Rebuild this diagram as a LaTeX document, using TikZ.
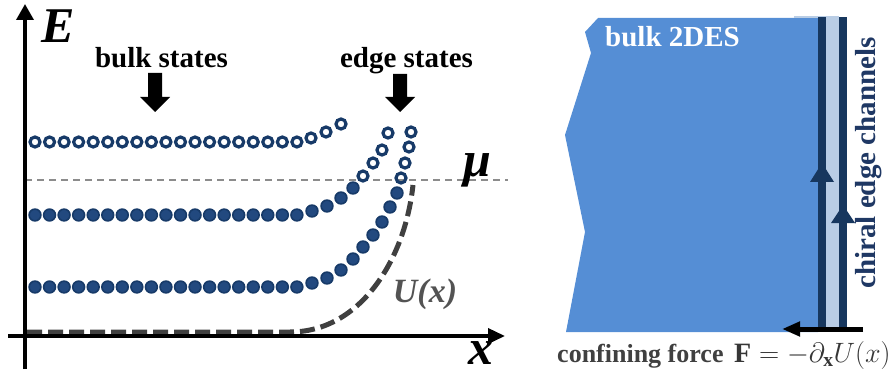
\documentclass[tikz,border=0pt]{standalone}
\usepackage{fix-cm}
\usepackage{fontspec}
\setmainfont{Liberation Serif}
\usetikzlibrary{arrows.meta}
\definecolor{navyring}{HTML}{173A68}
\definecolor{navyfill}{HTML}{22497F}
\definecolor{bulkblue}{HTML}{558ED5}
\definecolor{lightch}{HTML}{B9CDE5}
\definecolor{darkch}{HTML}{17375E}
\definecolor{ugray}{HTML}{404040}
\definecolor{mugray}{HTML}{8C8C8C}
\definecolor{chtext}{HTML}{1F3864}
\tikzset{
  odot/.style={draw=navyring, line width=3.2pt},
  fdot/.style={fill=navyfill, draw=navyring, line width=1.6pt},
  axis/.style={line width=3.5pt, black},
  lbl/.style={font=\fontsize{29}{34}\selectfont\bfseries, inner sep=0pt},
  biglbl/.style={font=\fontsize{50}{56}\selectfont\bfseries\itshape, inner sep=0pt},
  fatarrow/.style={fill=black},
}
\begin{document}
\begin{tikzpicture}[x=1pt,y=-1pt]
\useasboundingbox (0,0) rectangle (896,374);
% ---------------- left panel ----------------
% chemical potential line
\coordinate (mu0) at (25,180);
\coordinate (mu1) at (508,180);
\draw[mugray, line width=1.3pt, dash pattern=on 7pt off 5pt] (mu0) -- (mu1);
% axes
\coordinate (yb) at (25,369);
\coordinate (yt) at (25,4);
\coordinate (xl) at (8,336);
\coordinate (xr) at (505,336);
% potential U(x)
\coordinate (u0) at (27,332);
\coordinate (u1) at (290,332);
\coordinate (u2) at (413,185);
\draw[ugray, line width=5pt, dash pattern=on 15pt off 6pt] (u0) -- (u1) .. controls (360,332) and (405,260) .. (u2);
\draw[axis, -{Triangle[length=16pt,width=17pt]}] (yb) -- (yt);
\draw[axis, -{Triangle[length=17pt,width=15pt]}] (xl) -- (xr);
% dots: top row (open)
\foreach \k in {0,...,18} \draw[odot] ({35+14.55*\k},142) circle (5.0);
\foreach \p in {(311,138),(326,132),(341,124)} \draw[odot] \p circle (5.0);
% middle row
\foreach \k in {0,...,18} \filldraw[fdot] ({35+14.55*\k},215) circle (5.9);
\foreach \p in {(312,211),(327,206),(341,198),(353,188)} \filldraw[fdot] \p circle (5.9);
\foreach \p in {(363,176),(373,163),(382,150),(388,133)} \draw[odot] \p circle (5.0);
% bottom row
\foreach \k in {0,...,18} \filldraw[fdot] ({35+14.55*\k},287) circle (5.9);
\foreach \p in {(312,283),(327,278),(341,270),(353,259),(363,247),(373,235),(382,222),(390,207),(397,193)} \filldraw[fdot] \p circle (5.9);
\foreach \p in {(401,178),(405,163),(409,147),(411,132)} \draw[odot] \p circle (5.0);
% labels
\node[biglbl, anchor=base] (E) at (58,43) {E};
\node[biglbl, anchor=base] (X) at (481,364) {x};
\node[biglbl, anchor=base] (MU) at (477,176) {μ};
\node[font=\fontsize{34}{40}\selectfont\bfseries\itshape, text=ugray!90, inner sep=0pt, anchor=base] (UX) at (425,302) {U(x)};
\node[lbl, anchor=base] (bulk) at (161.5,68) {bulk states};
\node[lbl, anchor=base] (edge) at (406.5,68) {edge states};
% fat arrows
\fill[fatarrow] (148,73) -- (162,73) -- (162,97) -- (170,97) -- (155,112) -- (140,97) -- (148,97) -- cycle;
\fill[fatarrow] (393,74) -- (407,74) -- (407,97) -- (415,97) -- (400,112) -- (385,97) -- (393,97) -- cycle;
% ---------------- right panel ----------------
\fill[bulkblue] (598,18) -- (585,32) -- (591,53) -- (565,135) -- (585,232) -- (566,332) -- (818,332) -- (818,18) -- cycle;
\fill[lightch] (794,16.5) rectangle (839,18.5);
\fill[lightch] (818,17) rectangle (847,328);
\fill[darkch] (818,17) rectangle (826,328);
\fill[darkch] (839,17) rectangle (847,328);
\fill[darkch] (822,163) -- (834,182) -- (810,182) -- cycle;
\fill[darkch] (843,205) -- (855,223) -- (831,223) -- cycle;
\node[lbl, text=white, anchor=base west] (b2) at (605,47) {bulk 2DES};
\node[lbl, text=chtext, rotate=90] (chan) at (869,163) {chiral edge channels};
% confining force
\coordinate (f0) at (863,329);
\coordinate (f1) at (782,329);
\draw[line width=5pt, black, -{Triangle[length=18pt,width=14pt]}] (f0) -- (f1);
\node[font=\fontsize{26}{30}\selectfont\bfseries, text=ugray, inner sep=0pt, anchor=base west] (cf) at (557,362) {confining force};
\node[font=\fontsize{28}{32}\selectfont, text=ugray!85!black, inner sep=0pt, anchor=base west] (eq) at (734,362) {$\mathbf{F}=-\partial_{\mathbf{x}}U(x)$};
\end{tikzpicture}
\end{document}
